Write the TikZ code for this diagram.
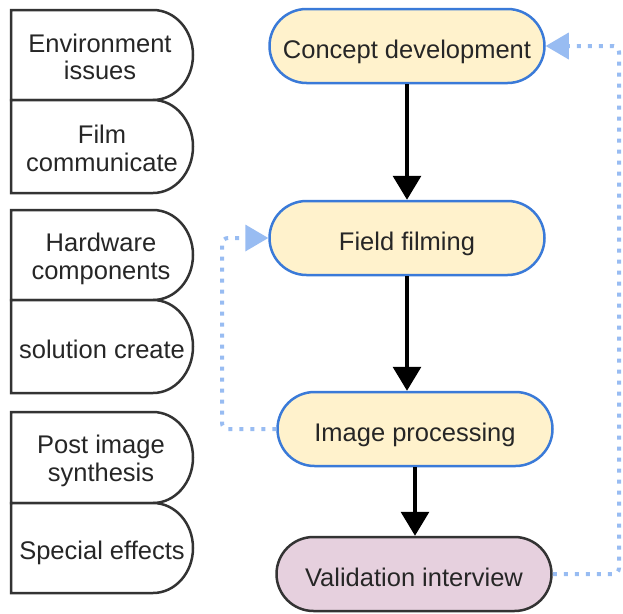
\documentclass[tikz,border=0pt]{standalone}
\usepackage{fontspec}
\setmainfont{Liberation Sans}
\usetikzlibrary{arrows.meta}
\definecolor{nodeblue}{RGB}{58,122,216}
\definecolor{stepfill}{RGB}{255,242,204}
\definecolor{pinkfill}{RGB}{230,208,222}
\definecolor{loopblue}{RGB}{152,188,242}
\definecolor{edgegray}{RGB}{51,51,51}
\definecolor{txt}{RGB}{38,38,38}
\begin{document}
\begin{tikzpicture}[x=1pt,y=-1pt,
  every node/.style={font=\fontsize{25.5}{27.5}\selectfont, text=txt, align=center, inner sep=0pt},
  oneline/.style={text height=23pt, text depth=0pt},
  stepbox/.style={draw=nodeblue, fill=stepfill, line width=2.5pt, minimum width=275pt, minimum height=74pt,
    rounded corners=37pt, text height=24.5pt, text depth=0pt},
  endbox/.style={stepbox, draw=edgegray, fill=pinkfill},
  flow/.style={line width=3.3pt, -{Triangle[length=24pt,width=28pt]}},
  loop/.style={draw=loopblue, line width=4pt, dash pattern=on 4pt off 7pt, rounded corners=6pt,
    -{Triangle[length=23pt,width=27pt,fill=loopblue,line width=0pt]}},
  delaybox/.style={draw=edgegray, fill=white, line width=2.5pt}
]
\useasboundingbox (0,0) rectangle (623,613);

% left-hand topic boxes (flat left edge, rounded right end)
\foreach \ya/\yb in {10/100, 100/193, 210/300, 300/393, 412/503, 503/593}{
  \pgfmathsetmacro\rr{(\yb-\ya)/2}
  \draw[delaybox] (11,\ya) -- (153,\ya) arc[start angle=-90, end angle=90, x radius=40, y radius=\rr] -- (11,\yb) -- cycle;
}
\node (env)  at (100,57)    {Environment\\issues};
\node (film) at (102,148.5) {Film\\communicate};
\node (hw)   at (101,259)   {Hardware\\components};
\node[oneline] (sol) at (102,346.5) {solution create};
\node (post) at (101,461)   {Post image\\synthesis};
\node[oneline] (sfx) at (102,548) {Special effects};

% process steps
\node[stepbox] (concept) at (407,46)  {Concept development};
\node[stepbox] (field)   at (407,238) {Field filming};
\node[stepbox] (image)   at (415,429) {Image processing};
\node[endbox]  (valid)   at (414,574) {Validation interview};

% main flow
\draw[flow] (concept.south) -- (field.north);
\draw[flow] (field.south) -- (field.south |- image.north);
\draw[flow] (image.south) -- (image.south |- valid.north);

% feedback loops
\coordinate (rloop) at (619,0);
\coordinate (lloop) at (222,0);
\draw[loop] (valid.east) -- (valid.east -| rloop) -- (concept.east -| rloop) -- (concept.east);
\draw[loop] (image.west) -- (image.west -| lloop) -- (field.west -| lloop) -- (field.west);
\end{tikzpicture}
\end{document}
